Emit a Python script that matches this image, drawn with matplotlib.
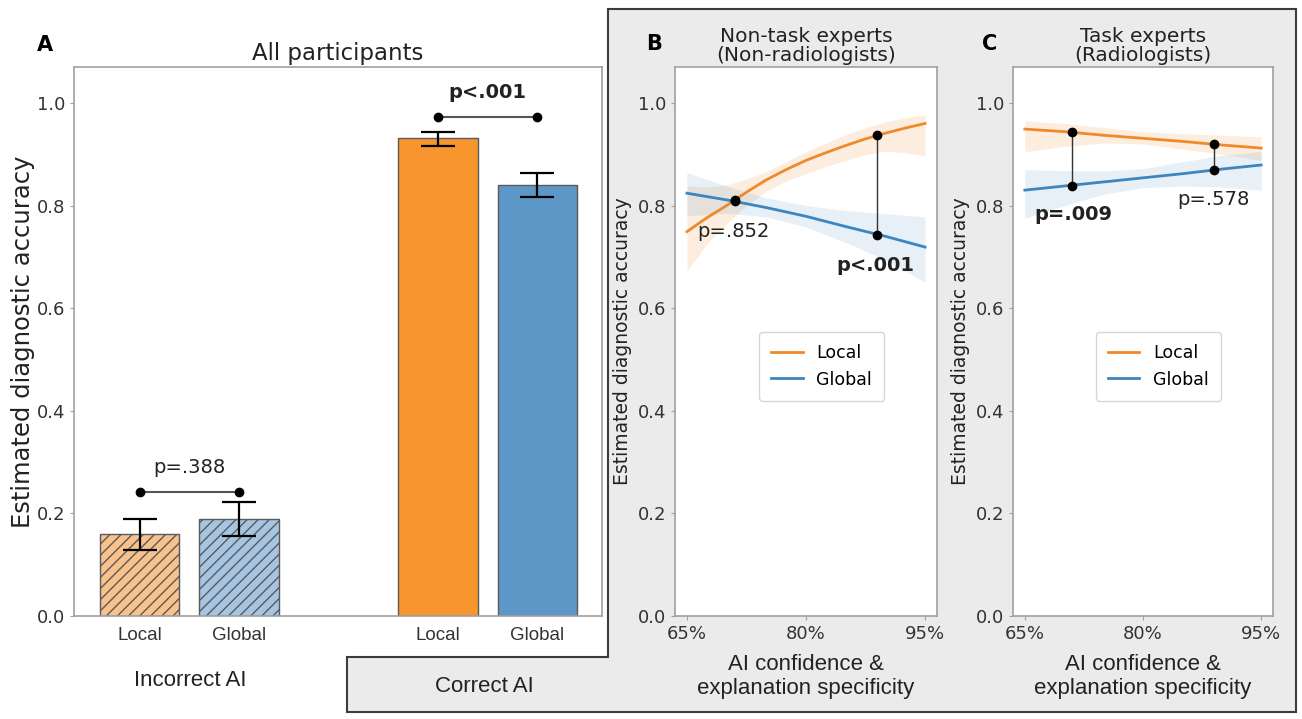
import numpy as np
import matplotlib.pyplot as plt
from matplotlib.patches import Polygon

# ---- panel A data ----
bar_pos = [0, 1, 3, 4]
bar_vals = [0.159, 0.189, 0.932, 0.840]
err_lo = [0.128, 0.156, 0.917, 0.817]
err_hi = [0.190, 0.222, 0.944, 0.864]
bar_labels = ['Local', 'Global', 'Local', 'Global']
group_labels = ['Incorrect AI', 'Correct AI']
p_a = ['p=.388', 'p<.001']
bracket_y = [0.242, 0.973]

# ---- panels B / C data ----
xs = [65, 70, 75, 80, 85, 90, 95]
xs_fine = [65, 67.5, 70, 72.5, 75, 77.5, 80, 82.5, 85, 87.5, 90, 92.5, 95]
b_local = [0.749, 0.776, 0.800, 0.826, 0.850, 0.870, 0.888, 0.903, 0.917, 0.930, 0.941, 0.951, 0.960]
b_local_lo = [0.672, 0.725, 0.765, 0.800, 0.828, 0.848, 0.862, 0.876, 0.888, 0.899, 0.906, 0.903, 0.897]
b_local_hi = [0.838, 0.836, 0.840, 0.852, 0.866, 0.885, 0.905, 0.922, 0.938, 0.952, 0.963, 0.971, 0.977]
b_global = [0.824, 0.811, 0.796, 0.779, 0.759, 0.740, 0.719]
b_global_lo = [0.780, 0.785, 0.778, 0.758, 0.728, 0.694, 0.650]
b_global_hi = [0.864, 0.838, 0.815, 0.800, 0.790, 0.784, 0.778]

c_local = [0.949, 0.944, 0.937, 0.931, 0.925, 0.918, 0.912]
c_local_lo = [0.905, 0.915, 0.922, 0.920, 0.910, 0.900, 0.888]
c_local_hi = [0.965, 0.960, 0.952, 0.944, 0.940, 0.937, 0.934]
c_global = [0.830, 0.838, 0.846, 0.854, 0.862, 0.871, 0.879]
c_global_lo = [0.775, 0.800, 0.822, 0.835, 0.838, 0.836, 0.830]
c_global_hi = [0.870, 0.868, 0.867, 0.872, 0.885, 0.898, 0.905]

pt_x = [71, 89]
b_pt_local = [0.811, 0.938]
b_pt_global = [0.808, 0.743]
c_pt_local = [0.943, 0.920]
c_pt_global = [0.839, 0.869]
b_p = ['p=.852', 'p<.001']
c_p = ['p=.009', 'p=.578']

ORANGE = '#f7952f'
BLUE = '#5c97c7'
L_ORANGE = '#ef8a2c'
L_BLUE = '#3d85bf'
SPINE = '#a0a0a0'
ARIAL = 'Liberation Sans'

plt.rcParams['hatch.color'] = '#888888'

W, H = 1302, 719
fig = plt.figure(figsize=(W / 100, H / 100), dpi=100)


def fx(px):
    return px / W


def fy(py):
    return 1 - py / H


# gray L-shaped background behind B, C and "Correct AI"
poly = Polygon([(fx(347), fy(657)), (fx(608), fy(657)), (fx(608), fy(9)),
                (fx(1296), fy(9)), (fx(1296), fy(712)), (fx(347), fy(712))],
               closed=True, transform=fig.transFigure, facecolor='#ebebeb',
               edgecolor='#3c3c3c', lw=1.5, zorder=-5)
fig.patches.append(poly)


def style_axes(ax):
    for s in ax.spines.values():
        s.set_color(SPINE)
        s.set_linewidth(1.2)
    ax.tick_params(colors=SPINE, labelcolor='#333333', labelsize=13, length=3)
    ax.set_ylim(0, 1.07)
    ax.set_yticks([0, 0.2, 0.4, 0.6, 0.8, 1.0])


# ---- panel A ----
axA = fig.add_axes([fx(74), fy(616), fx(602) - fx(74), fy(67) - fy(616)])
style_axes(axA)
colors = ['#f9c28c', '#a6c5e2', ORANGE, BLUE]
hatches = ['///', '///', None, None]
for i in range(4):
    axA.bar(bar_pos[i], bar_vals[i], width=0.8, color=colors[i],
            edgecolor='#5a5a5a', linewidth=1, hatch=hatches[i], zorder=2)
yerr = [np.array(bar_vals) - np.array(err_lo), np.array(err_hi) - np.array(bar_vals)]
axA.errorbar(bar_pos, bar_vals, yerr=yerr, fmt='none', ecolor='black',
             elinewidth=1.6, capsize=12.5, capthick=1.6, zorder=3)
for g in range(2):
    x0, x1 = bar_pos[2 * g], bar_pos[2 * g + 1]
    axA.plot([x0, x1], [bracket_y[g]] * 2, color='#555555', lw=1.5, zorder=3)
    axA.plot([x0, x1], [bracket_y[g]] * 2, 'o', color='black', ms=6, zorder=4)
    axA.text((x0 + x1) / 2, bracket_y[g] + 0.028, p_a[g], ha='center', va='bottom',
             fontsize=14, fontweight='bold' if g == 1 else 'normal', color='#222222')
axA.set_xlim(-0.66, 4.65)
axA.set_xticks(bar_pos)
axA.set_xticklabels(bar_labels, family=ARIAL, fontsize=13.5)
axA.tick_params(axis='x', length=0, pad=8)
axA.set_ylabel('Estimated diagnostic accuracy', fontsize=17.5, color='#222222')
axA.yaxis.set_label_coords(-0.074, 0.5)
axA.set_title('All participants', fontsize=16.5, color='#222222', pad=5)
fig.text(fx(190), fy(681), group_labels[0], family=ARIAL, fontsize=16,
         ha='center', va='center', color='#222222')
fig.text(fx(484), fy(686), group_labels[1], family=ARIAL, fontsize=16,
         ha='center', va='center', color='#222222')


def line_panel(ax, lx, loc, loc_lo, loc_hi, glo, glo_lo, glo_hi, pl, pg, ptxt, title):
    style_axes(ax)
    ax.fill_between(lx, loc_lo, loc_hi, color=L_ORANGE, alpha=0.15, lw=0)
    ax.fill_between(xs, glo_lo, glo_hi, color=L_BLUE, alpha=0.12, lw=0)
    ax.plot(lx, loc, color=L_ORANGE, lw=2, label='Local')
    ax.plot(xs, glo, color=L_BLUE, lw=2, label='Global')
    for i in range(2):
        ax.plot([pt_x[i], pt_x[i]], [pl[i], pg[i]], color='#333333', lw=1, zorder=4)
        ax.plot([pt_x[i], pt_x[i]], [pl[i], pg[i]], 'o', color='black', ms=6, zorder=5)
    ax.set_xlim(63.5, 96.5)
    ax.set_xticks([65, 80, 95])
    ax.set_xticklabels(['65%', '80%', '95%'])
    ax.set_ylabel('Estimated diagnostic accuracy', fontsize=13.5, color='#222222', labelpad=4)
    ax.set_xlabel('AI confidence &\nexplanation specificity', family=ARIAL,
                  fontsize=16, color='#222222', labelpad=8)
    ax.set_title(title, fontsize=14.5, color='#222222', pad=4, linespacing=1.05)
    ax.legend(loc='center', bbox_to_anchor=(0.56, 0.455), fontsize=12.5,
              handlelength=1.8, borderpad=0.7)
    for t in ptxt:
        ax.text(t[0], t[1], t[2], ha='center', va='center', fontsize=14,
                fontweight=t[3], color='#222222', zorder=6)


axB = fig.add_axes([fx(675), fy(616), fx(937) - fx(675), fy(67) - fy(616)])
line_panel(axB, xs_fine, b_local, b_local_lo, b_local_hi, b_global, b_global_lo, b_global_hi,
           b_pt_local, b_pt_global,
           [(70.8, 0.749, b_p[0], 'normal'), (88.8, 0.684, b_p[1], 'bold')],
           'Non-task experts\n(Non-radiologists)')

axC = fig.add_axes([fx(1013), fy(616), fx(1273) - fx(1013), fy(67) - fy(616)])
line_panel(axC, xs, c_local, c_local_lo, c_local_hi, c_global, c_global_lo, c_global_hi,
           c_pt_local, c_pt_global,
           [(71.1, 0.782, c_p[0], 'bold'), (89.0, 0.811, c_p[1], 'normal')],
           'Task experts\n(Radiologists)')

fig.text(fx(45), fy(45), 'A', fontsize=15, fontweight='bold', ha='center', va='center')
fig.text(fx(654), fy(44), 'B', fontsize=15, fontweight='bold', ha='center', va='center')
fig.text(fx(990), fy(44), 'C', fontsize=15, fontweight='bold', ha='center', va='center')

fig.savefig('out.png', dpi=100)
